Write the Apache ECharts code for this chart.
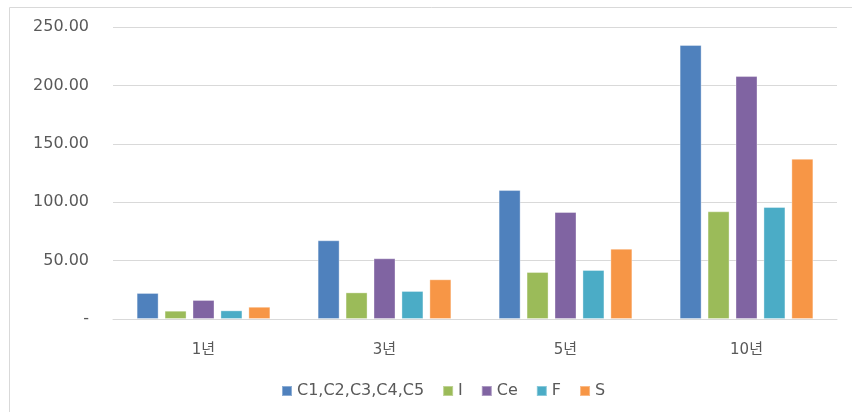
<!DOCTYPE html>
<html><head><meta charset="utf-8">
<script src="https://cdn.jsdelivr.net/npm/echarts@6/dist/echarts.min.js"></script>
<style>html,body{margin:0;padding:0;background:#fff}#c{width:852px;height:412px}</style>
</head><body><div id="c"></div>
<script>
const categories = ['1년', '3년', '5년', '10년'];
const seriesNames = ['C1,C2,C3,C4,C5', 'I', 'Ce', 'F', 'S'];
const valuesC = [22.3, 67.4, 110.4, 234.6];
const valuesI = [7.1, 22.8, 40.2, 92.2];
const valuesCe = [16.3, 52.0, 91.6, 208.0];
const valuesF = [7.4, 24.0, 42.0, 95.9];
const valuesS = [10.5, 34.0, 60.2, 137.2];
const colors = ['#4F81BD', '#9BBB59', '#8064A2', '#4BACC6', '#F79646'];
const allValues = [valuesC, valuesI, valuesCe, valuesF, valuesS];

const chart = echarts.init(document.getElementById('c'));
const font = '"DejaVu Sans", "Noto Sans CJK KR", sans-serif';
chart.setOption({
  animation: false,
  color: colors,
  textStyle: { fontFamily: font },
  graphic: [{
    type: 'rect', shape: { x: 9.5, y: 7.5, width: 900, height: 450 },
    style: { fill: 'none', stroke: '#d9d9d9', lineWidth: 1 }, silent: true
  }],
  grid: { left: 113, right: 15, top: 27, bottom: 93, containLabel: false },
  legend: {
    data: seriesNames, top: 378, left: 276,
    itemWidth: 10, itemHeight: 10, itemGap: 18, icon: 'rect',
    textStyle: { color: '#595959', fontSize: 16, fontFamily: font }
  },
  xAxis: {
    type: 'category', data: categories,
    axisLine: { lineStyle: { color: '#d9d9d9', width: 1 } },
    axisTick: { show: false },
    axisLabel: { color: '#595959', fontSize: 15, margin: 24, fontFamily: font }
  },
  yAxis: {
    type: 'value', min: 0, max: 250, interval: 50,
    axisLine: { show: false }, axisTick: { show: false },
    splitLine: { lineStyle: { color: '#d9d9d9', width: 1 } },
    axisLabel: {
      color: '#595959', fontSize: 16, margin: 24, fontFamily: font,
      formatter: v => v === 0 ? '-' : v.toFixed(2)
    }
  },
  series: seriesNames.map((n, i) => ({
    name: n, type: 'bar', data: allValues[i],
    barWidth: 22, barGap: '27%',
    itemStyle: { color: colors[i], borderColor: 'rgba(255,255,255,0.35)', borderWidth: 1 }
  }))
});
</script></body></html>
